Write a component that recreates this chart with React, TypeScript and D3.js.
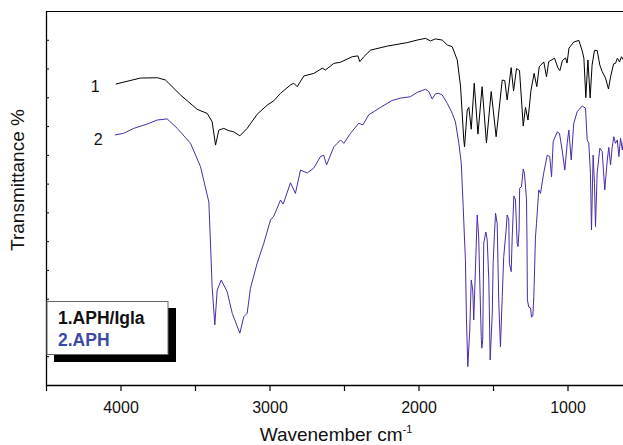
import React, { useRef, useEffect } from 'react';
import * as d3 from 'd3';

// [wavenumber cm-1, transmittance (arb.)]
const aphIgla: [number, number][] = [
  [4032, 104.6], [3866, 106.7], [3752, 106.8], [3698, 106.0], [3597, 100.8],
  [3485, 95.8], [3418, 94.4], [3385, 91.5], [3362, 83.4], [3340, 88.6],
  [3307, 89.2], [3273, 88.4], [3240, 88.0], [3199, 86.6], [3150, 89.2],
  [3083, 94.1], [3015, 97.3], [2971, 98.8], [2926, 101.4], [2859, 104.3],
  [2837, 104.9], [2814, 103.7], [2770, 107.4], [2703, 108.3], [2646, 110.1],
  [2624, 109.5], [2568, 111.8], [2523, 112.2], [2445, 114.1], [2407, 114.4],
  [2394, 112.4], [2367, 114.1], [2322, 116.4], [2210, 117.8], [2076, 119.0],
  [2009, 119.9], [1953, 120.5], [1920, 119.6], [1886, 120.3], [1841, 119.9],
  [1807, 118.2], [1774, 117.6], [1740, 113.0], [1718, 103.9], [1696, 85.2],
  [1691, 82.8], [1673, 95.6], [1662, 96.5], [1646, 88.9], [1626, 104.9],
  [1601, 87.2], [1573, 103.7], [1544, 84.1], [1512, 102.0], [1479, 86.3],
  [1438, 106.0], [1421, 105.8], [1405, 99.1], [1378, 110.3], [1362, 102.2],
  [1342, 110.0], [1322, 109.3], [1297, 90.0], [1282, 96.5], [1265, 92.1],
  [1245, 102.5], [1224, 108.3], [1206, 103.7], [1190, 110.6], [1159, 112.3],
  [1141, 107.1], [1126, 112.4], [1087, 113.6], [1064, 110.2], [1051, 109.3],
  [1034, 112.8], [1013, 113.7], [1003, 111.9], [990, 117.1], [958, 119.2],
  [924, 119.8], [901, 116.1], [890, 113.6], [877, 99.9], [863, 113.0],
  [848, 99.8], [835, 111.2], [819, 116.3], [801, 116.3], [783, 111.2],
  [767, 108.9], [745, 106.7], [725, 102.9], [711, 107.1], [691, 111.6],
  [678, 111.8], [665, 113.6], [651, 112.3], [638, 114.1], [624, 113.0],
];

const aph: [number, number][] = [
  [4038, 86.9], [3978, 87.5], [3911, 89.2], [3821, 90.7], [3754, 92.1],
  [3687, 92.5], [3619, 89.2], [3530, 84.0], [3463, 75.9], [3407, 63.6],
  [3396, 49.3], [3385, 34.2], [3367, 20.9], [3351, 33.0], [3324, 36.5],
  [3284, 32.4], [3250, 24.9], [3199, 18.0], [3173, 23.7], [3150, 24.9],
  [3128, 33.6], [3083, 42.3], [3038, 49.3], [2993, 57.4], [2971, 58.7],
  [2926, 64.3], [2908, 62.9], [2859, 70.3], [2826, 66.6], [2792, 74.7],
  [2747, 73.7], [2703, 75.4], [2658, 79.4], [2636, 79.9], [2617, 76.5],
  [2568, 82.8], [2523, 85.2], [2501, 84.0], [2456, 87.5], [2401, 91.0],
  [2373, 90.4], [2334, 93.9], [2255, 96.5], [2177, 98.9], [2121, 99.7],
  [2054, 100.2], [2009, 101.7], [1953, 102.8], [1931, 102.0], [1908, 99.4],
  [1886, 101.2], [1864, 101.4], [1841, 100.8], [1807, 97.9], [1774, 94.5],
  [1752, 91.4], [1729, 84.0], [1713, 77.1], [1700, 62.0], [1691, 50.4],
  [1685, 43.5], [1678, 22.6], [1669, 6.4], [1656, 19.1], [1646, 36.5],
  [1636, 33.0], [1629, 22.6], [1618, 40.0], [1606, 59.1], [1596, 51.5],
  [1589, 36.5], [1579, 16.8], [1575, 12.8], [1569, 15.6], [1562, 49.3],
  [1548, 53.2], [1539, 50.4], [1528, 36.5], [1519, 8.7], [1505, 24.9],
  [1499, 42.3], [1490, 52.7], [1483, 59.7], [1472, 56.2], [1461, 28.4],
  [1450, 13.3], [1438, 30.7], [1428, 44.6], [1412, 53.9], [1405, 59.1],
  [1394, 57.4], [1390, 42.3], [1378, 39.4], [1371, 51.5], [1360, 65.7],
  [1349, 64.3], [1338, 49.3], [1332, 48.1], [1325, 53.9], [1321, 68.4],
  [1309, 68.9], [1297, 75.1], [1289, 73.6], [1275, 64.3], [1272, 50.4],
  [1269, 29.5], [1260, 27.1], [1248, 26.8], [1242, 23.6], [1233, 24.0],
  [1226, 30.6], [1215, 51.4], [1208, 56.2], [1193, 67.8], [1181, 66.6],
  [1160, 73.6], [1136, 79.9], [1119, 79.4], [1107, 72.4], [1096, 84.6],
  [1069, 88.0], [1054, 87.5], [1036, 81.7], [1018, 74.7], [1002, 84.0],
  [991, 88.6], [975, 78.2], [958, 91.0], [935, 95.0], [901, 97.0],
  [879, 96.2], [868, 85.2], [857, 84.0], [846, 73.6], [839, 53.9],
  [828, 79.9], [819, 70.1], [812, 55.0], [801, 73.6], [783, 82.3],
  [767, 81.1], [750, 67.8], [733, 78.2], [723, 82.6], [711, 76.5],
  [700, 82.8], [689, 86.3], [678, 84.0], [666, 85.2], [655, 79.4],
  [644, 85.8], [632, 81.7], [624, 85.2],
];

const xTickValues = [4500, 4000, 3500, 3000, 2500, 2000, 1500, 1000, 500];
const yTickValues = d3.range(0, 131, 10);
const curveLabels = [
  { text: '1', wn: 4170, t: 102 },
  { text: '2', wn: 4150, t: 83.5 },
];
const legendItems = [
  { text: '1.APH/Igla', color: '#111111' },
  { text: '2.APH', color: '#3b4aa6' },
];

const W = 623;
const H = 445;
const FONT = '"Liberation Sans", Arial, Helvetica, sans-serif';

export default function App() {
  const svgEl = useRef<SVGSVGElement>(null);

  useEffect(() => {
    const svg = d3.select(svgEl.current);
    svg.selectAll('*').remove();

    const left = 46;
    const top = 11;
    const bottom = 385;

    const x = d3.scaleLinear().domain([4500, 400]).range([left, left + 4100 * 0.149]);
    const y = d3.scaleLinear().domain([0, 130]).range([bottom, top]);

    const root = svg.append('g');

    // frame top
    root
      .append('line')
      .attr('x1', left)
      .attr('x2', W + 10)
      .attr('y1', top + 0.5)
      .attr('y2', top + 0.5)
      .attr('stroke', '#000')
      .attr('stroke-width', 1);

    // bottom axis
    const xAxis = root
      .append('g')
      .attr('transform', `translate(0,${bottom})`)
      .call(
        d3
          .axisBottom(x)
          .tickValues(xTickValues)
          .tickSize(6)
          .tickSizeOuter(0)
          .tickFormat((d) => ((d as number) % 1000 === 0 ? String(d) : ''))
      );
    xAxis.select('.domain').attr('stroke-width', 1.3);
    xAxis.selectAll('.tick line').attr('stroke-width', 1.2);
    xAxis
      .selectAll('.tick text')
      .attr('font-family', FONT)
      .attr('font-size', 16)
      .attr('fill', '#111')
      .attr('dy', '1.2em');

    // left axis, ticks inward
    const yAxis = root
      .append('g')
      .attr('transform', `translate(${left},0)`)
      .call(d3.axisLeft(y).tickValues(yTickValues).tickSize(-3).tickSizeOuter(0).tickFormat(() => ''));
    yAxis.select('.domain').attr('stroke-width', 1.3);

    const line = d3
      .line<[number, number]>()
      .x((d) => x(d[0]))
      .y((d) => y(d[1]));

    root
      .append('path')
      .datum(aph)
      .attr('d', line)
      .attr('fill', 'none')
      .attr('stroke', '#4d2aa8')
      .attr('stroke-width', 1)
      .attr('stroke-linejoin', 'round');

    root
      .append('path')
      .datum(aphIgla)
      .attr('d', line)
      .attr('fill', 'none')
      .attr('stroke', '#000')
      .attr('stroke-width', 1)
      .attr('stroke-linejoin', 'round');

    root
      .selectAll('.curve-label')
      .data(curveLabels)
      .enter()
      .append('text')
      .attr('x', (d) => x(d.wn))
      .attr('y', (d) => y(d.t))
      .attr('text-anchor', 'middle')
      .attr('font-family', FONT)
      .attr('font-size', 16)
      .attr('fill', '#111')
      .text((d) => d.text);

    // legend
    const lg = root.append('g');
    lg.append('rect').attr('x', 54).attr('y', 308).attr('width', 122).attr('height', 54).attr('fill', '#000');
    lg.append('rect')
      .attr('x', 47)
      .attr('y', 301.5)
      .attr('width', 121)
      .attr('height', 53)
      .attr('fill', '#fff')
      .attr('stroke', '#666')
      .attr('stroke-width', 1);
    lg.selectAll('text')
      .data(legendItems)
      .enter()
      .append('text')
      .attr('x', 58)
      .attr('y', (d, i) => 323.5 + i * 22)
      .attr('font-family', FONT)
      .attr('font-size', 17.5)
      .attr('font-weight', 'bold')
      .attr('fill', (d) => d.color)
      .text((d) => d.text);

    // axis titles
    const xt = root
      .append('text')
      .attr('x', 336)
      .attr('y', 441)
      .attr('text-anchor', 'middle')
      .attr('font-family', FONT)
      .attr('font-size', 19)
      .attr('fill', '#111');
    xt.append('tspan').text('Wavenember cm');
    xt.append('tspan').attr('font-size', 11).attr('dy', -8).text('-1');

    root
      .append('text')
      .attr('transform', `translate(24,180) rotate(-90)`)
      .attr('text-anchor', 'middle')
      .attr('font-family', FONT)
      .attr('font-size', 19)
      .attr('fill', '#111')
      .text('Transmittance %');
  }, []);

  return (
    <svg
      ref={svgEl}
      width={W}
      height={H}
      style={{ position: 'fixed', left: 0, top: 0, background: '#fff' }}
    ></svg>
  );
}
